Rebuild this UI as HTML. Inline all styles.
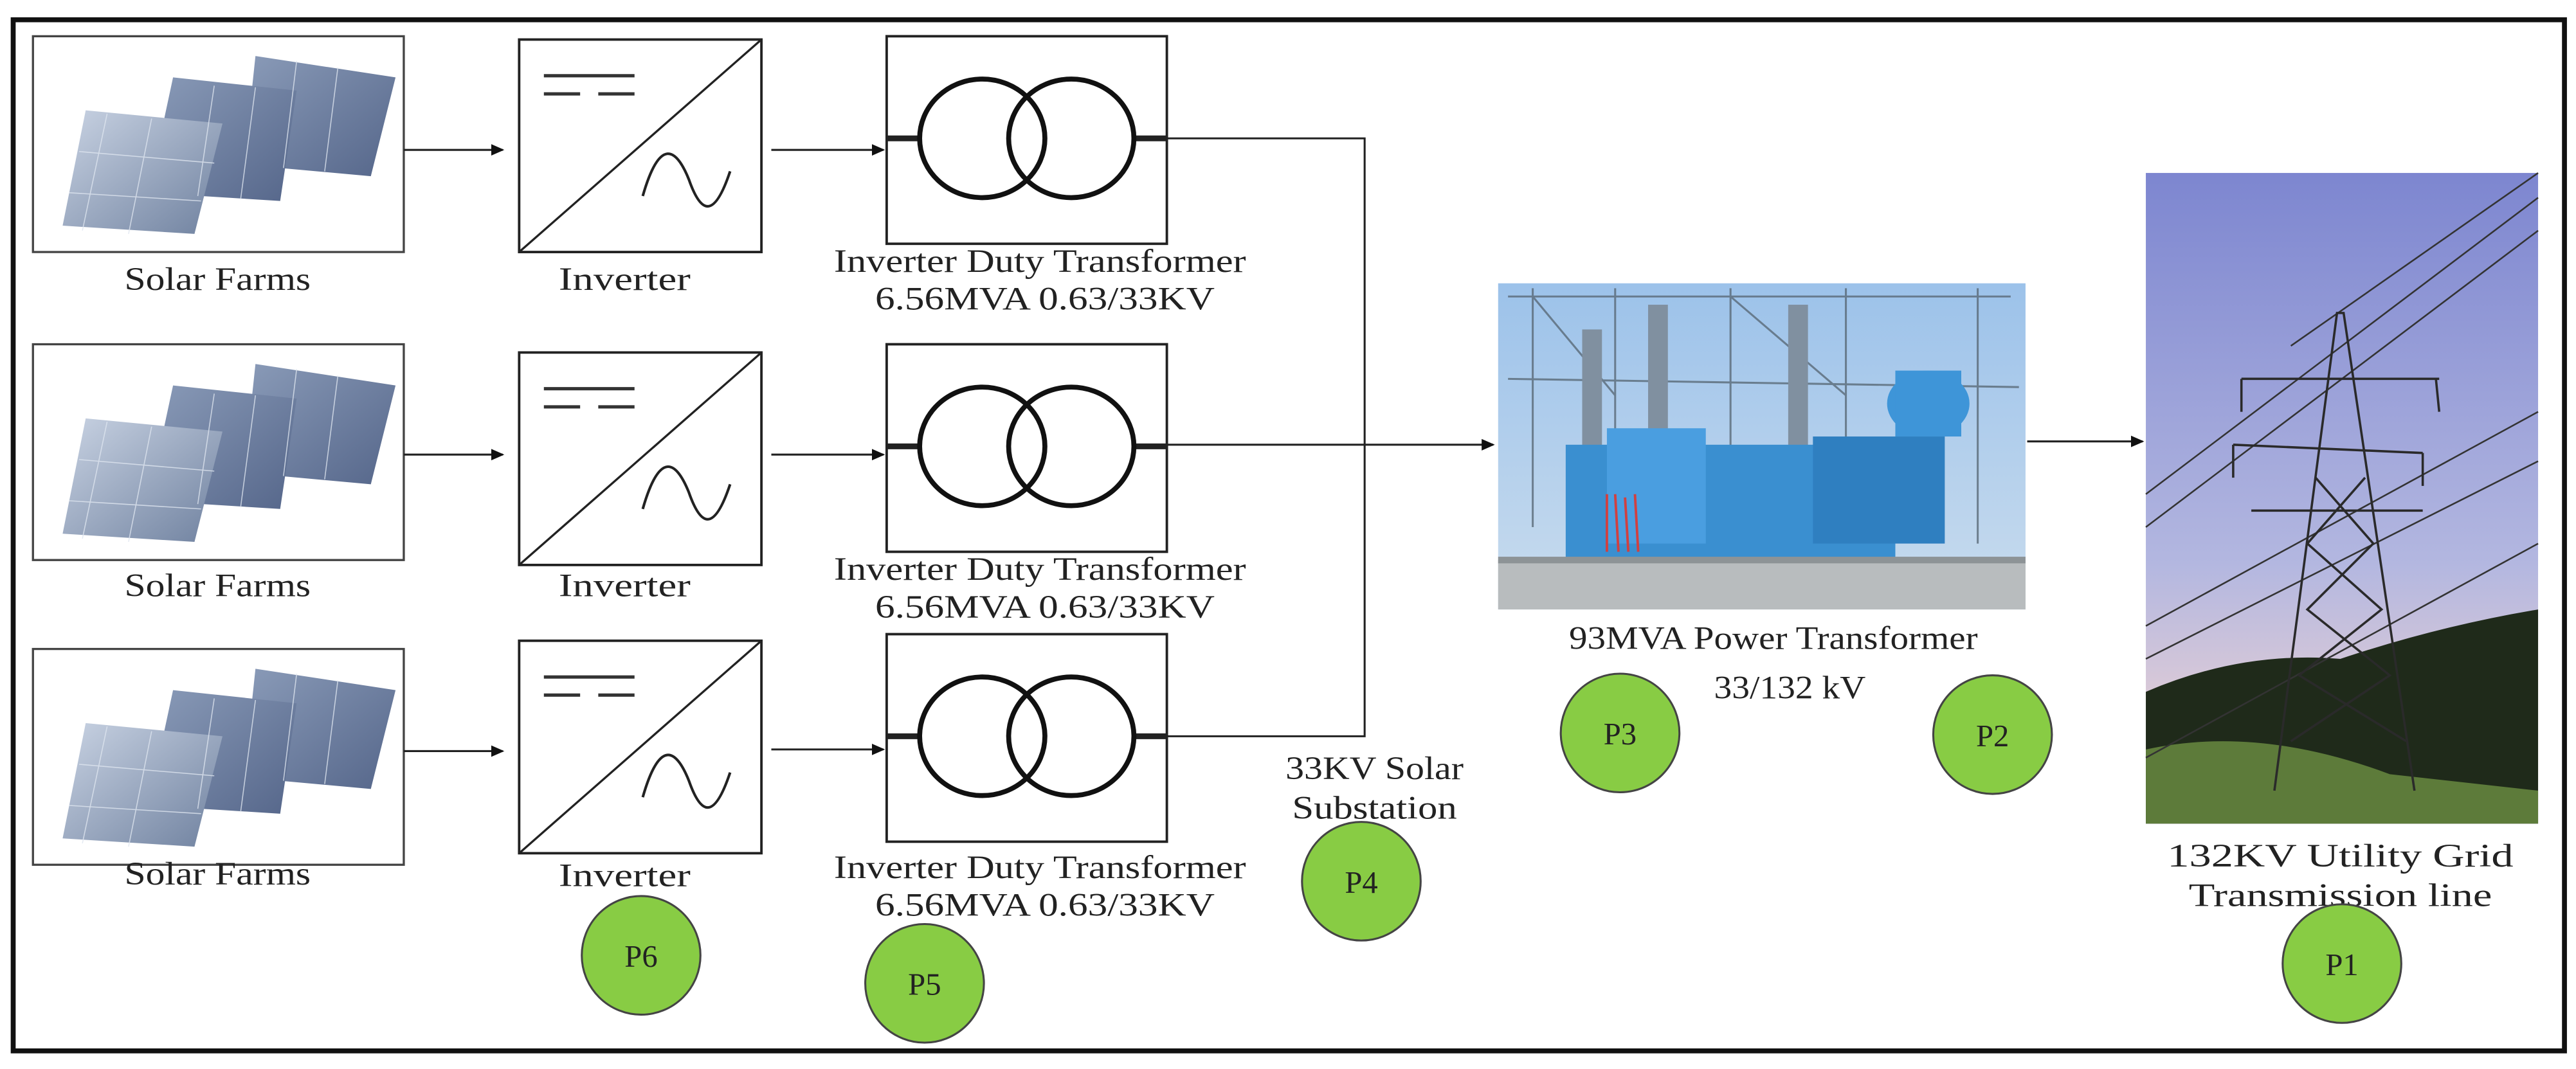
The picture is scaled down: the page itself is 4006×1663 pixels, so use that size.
<!DOCTYPE html>
<html><head><meta charset="utf-8"><style>
html,body{margin:0;padding:0;background:#fff;}
svg{display:block;}
text{font-family:"Liberation Serif","DejaVu Serif",serif;fill:#222;}
</style></head><body>
<svg width="4006" height="1663" viewBox="0 0 1563 649" preserveAspectRatio="none" xmlns="http://www.w3.org/2000/svg">
<defs>
<linearGradient id="pan" x1="0" y1="0" x2="1" y2="1"><stop offset="0" stop-color="#c9d3e3"/><stop offset="1" stop-color="#6f819f"/></linearGradient>
<linearGradient id="pan2" x1="0" y1="0" x2="1" y2="1"><stop offset="0" stop-color="#8a9bb8"/><stop offset="1" stop-color="#55668a"/></linearGradient>
<linearGradient id="sky" x1="0" y1="0" x2="0" y2="1"><stop offset="0" stop-color="#7d86d0"/><stop offset="0.6" stop-color="#b3b7e0"/><stop offset="0.8" stop-color="#d9c9d8"/></linearGradient>
<linearGradient id="sky2" x1="0" y1="0" x2="0" y2="1"><stop offset="0" stop-color="#9cc2ea"/><stop offset="1" stop-color="#c9dcee"/></linearGradient>
<marker id="ar" markerWidth="8" markerHeight="8" refX="7" refY="4" orient="auto" markerUnits="userSpaceOnUse"><path d="M0,0.5 L8,4 L0,7.5z" fill="#111"/></marker>
<g id="solar">
<rect x="0" y="0" width="225" height="131" fill="#fff" stroke="#444" stroke-width="1.3"/>
<polygon points="135,12 220,25 205,85 128,78" fill="url(#pan2)"/>
<polygon points="85,25 160,33 150,100 70,95" fill="url(#pan2)"/>
<polygon points="22,50 105,58 88,125 8,120" fill="url(#pan)" transform="translate(10,-5)"/>
<g stroke="#dfe6f0" stroke-width="0.6" opacity="0.8">
<line x1="45" y1="47" x2="30" y2="118"/><line x1="72" y1="50" x2="58" y2="120"/><line x1="28" y1="70" x2="110" y2="77"/><line x1="22" y1="95" x2="102" y2="100"/>
<line x1="110" y1="30" x2="100" y2="97"/><line x1="135" y1="31" x2="126" y2="99"/><line x1="160" y1="15" x2="152" y2="80"/><line x1="185" y1="19" x2="177" y2="82"/>
</g>
</g>
<g id="inv">
<rect x="0" y="0" width="147" height="129" fill="#fff" stroke="#222" stroke-width="1.5"/>
<line x1="0" y1="129" x2="147" y2="0" stroke="#222" stroke-width="1.3"/>
<line x1="15" y1="22" x2="70" y2="22" stroke="#333" stroke-width="2"/>
<line x1="15" y1="33" x2="37" y2="33" stroke="#333" stroke-width="2"/><line x1="48" y1="33" x2="70" y2="33" stroke="#333" stroke-width="2"/>
<path d="M75,95 C85,60 95,65 103,85 C110,105 118,110 128,80" fill="none" stroke="#222" stroke-width="1.6"/>
</g>
<g id="trf">
<rect x="0" y="0" width="170" height="126" fill="#fff" stroke="#222" stroke-width="1.5"/>
<line x1="0" y1="62" x2="20" y2="62" stroke="#222" stroke-width="3.5"/>
<line x1="150" y1="62" x2="170" y2="62" stroke="#222" stroke-width="3.5"/>
<ellipse cx="58" cy="62" rx="38" ry="36" fill="none" stroke="#111" stroke-width="3"/>
<ellipse cx="112" cy="62" rx="38" ry="36" fill="none" stroke="#111" stroke-width="3"/>
</g>
</defs>
<rect x="8" y="12" width="1548" height="626" fill="none" stroke="#111" stroke-width="3"/>

<use href="#solar" x="20" y="22"/>
<use href="#solar" x="20" y="209"/>
<use href="#solar" x="20" y="394"/>
<g font-size="20" text-anchor="middle" font-family="Liberation Serif, serif" lengthAdjust="spacingAndGlyphs">
<text x="132" y="176" textLength="113" lengthAdjust="spacingAndGlyphs">Solar Farms</text><text x="132" y="362" textLength="113" lengthAdjust="spacingAndGlyphs">Solar Farms</text><text x="132" y="537" textLength="113" lengthAdjust="spacingAndGlyphs">Solar Farms</text>
<text x="379" y="176" textLength="80" lengthAdjust="spacingAndGlyphs">Inverter</text><text x="379" y="362" textLength="80" lengthAdjust="spacingAndGlyphs">Inverter</text><text x="379" y="538" textLength="80" lengthAdjust="spacingAndGlyphs">Inverter</text>
<text x="631" y="165" textLength="250" lengthAdjust="spacingAndGlyphs">Inverter Duty Transformer</text><text x="634" y="188" textLength="206" lengthAdjust="spacingAndGlyphs">6.56MVA 0.63/33KV</text>
<text x="631" y="352" textLength="250" lengthAdjust="spacingAndGlyphs">Inverter Duty Transformer</text><text x="634" y="375" textLength="206" lengthAdjust="spacingAndGlyphs">6.56MVA 0.63/33KV</text>
<text x="631" y="533" textLength="250" lengthAdjust="spacingAndGlyphs">Inverter Duty Transformer</text><text x="634" y="556" textLength="206" lengthAdjust="spacingAndGlyphs">6.56MVA 0.63/33KV</text>
<text x="834" y="473" textLength="108" lengthAdjust="spacingAndGlyphs">33KV Solar</text><text x="834" y="497" textLength="100" lengthAdjust="spacingAndGlyphs">Substation</text>
<text x="1076" y="394" textLength="248" lengthAdjust="spacingAndGlyphs">93MVA Power Transformer</text><text x="1086" y="424" textLength="92" lengthAdjust="spacingAndGlyphs">33/132 kV</text>
<text x="1420" y="526" textLength="210" lengthAdjust="spacingAndGlyphs">132KV Utility Grid</text><text x="1420" y="550" textLength="184" lengthAdjust="spacingAndGlyphs">Transmission line</text>
</g>

<use href="#inv" x="315" y="24"/>
<use href="#inv" x="315" y="214"/>
<use href="#inv" x="315" y="389"/>
<use href="#trf" x="538" y="22"/>
<use href="#trf" x="538" y="209"/>
<use href="#trf" x="538" y="385"/>

<g stroke="#222" stroke-width="1.2" fill="none">
<line x1="245" y1="91" x2="305" y2="91" marker-end="url(#ar)"/>
<line x1="245" y1="276" x2="305" y2="276" marker-end="url(#ar)"/>
<line x1="245" y1="456" x2="305" y2="456" marker-end="url(#ar)"/>
<line x1="468" y1="91" x2="536" y2="91" marker-end="url(#ar)"/>
<line x1="468" y1="276" x2="536" y2="276" marker-end="url(#ar)"/>
<line x1="468" y1="455" x2="536" y2="455" marker-end="url(#ar)"/>
<polyline points="708,84 828,84 828,447 708,447"/>
<line x1="708" y1="270" x2="906" y2="270" marker-end="url(#ar)"/>
<line x1="1230" y1="268" x2="1300" y2="268" marker-end="url(#ar)"/>
</g>

<g>
<rect x="909" y="172" width="320" height="198" fill="url(#sky2)"/>
<g stroke="#5a6a78" stroke-width="1.2" fill="none" opacity="0.8">
<path d="M915,180 L1220,180 M930,175 L930,320 M980,175 L980,320 M1050,175 L1050,320 M1120,175 L1120,320 M1200,175 L1200,330"/>
<path d="M915,230 L1225,235 M930,180 L980,240 M1050,180 L1120,240"/>
</g>
<rect x="960" y="200" width="12" height="80" fill="#8090a0"/>
<rect x="1000" y="185" width="12" height="95" fill="#8090a0"/>
<rect x="1085" y="185" width="12" height="95" fill="#8090a0"/>
<rect x="950" y="270" width="200" height="70" fill="#3a8fd0"/>
<rect x="975" y="260" width="60" height="70" fill="#4a9ee0"/>
<ellipse cx="1170" cy="245" rx="25" ry="20" fill="#3e95d8"/>
<rect x="1150" y="225" width="40" height="40" fill="#3e95d8"/>
<rect x="1100" y="265" width="80" height="65" fill="#2f7fc0"/>
<g stroke="#d04040" stroke-width="1.5"><line x1="975" y1="300" x2="975" y2="335"/><line x1="980" y1="300" x2="982" y2="335"/><line x1="986" y1="302" x2="988" y2="335"/><line x1="992" y1="300" x2="994" y2="335"/></g>
<rect x="909" y="340" width="320" height="30" fill="#b8bcbe"/>
<rect x="909" y="338" width="320" height="4" fill="#8d9396"/>
</g>

<g>
<rect x="1302" y="105" width="238" height="395" fill="url(#sky)"/>
<path d="M1302,420 Q1360,395 1420,400 Q1480,380 1540,370 L1540,500 L1302,500z" fill="#1f2a1a"/>
<path d="M1302,455 Q1370,440 1450,470 L1540,480 L1540,500 L1302,500z" fill="#5d7b3a"/>
<g stroke="#333" stroke-width="1" fill="none">
<line x1="1302" y1="300" x2="1540" y2="120"/><line x1="1302" y1="320" x2="1540" y2="140"/>
<line x1="1302" y1="380" x2="1540" y2="250"/><line x1="1302" y1="400" x2="1540" y2="280"/>
<line x1="1302" y1="460" x2="1540" y2="330"/><line x1="1390" y1="210" x2="1540" y2="105"/>
</g>
<g stroke="#2a2a2a" stroke-width="1.4" fill="none">
<polyline points="1380,480 1418,190 1422,190 1465,480"/>
<line x1="1360" y1="230" x2="1480" y2="230"/><line x1="1355" y1="270" x2="1470" y2="275"/><line x1="1366" y1="310" x2="1470" y2="310"/>
<line x1="1360" y1="230" x2="1360" y2="250"/><line x1="1478" y1="230" x2="1480" y2="250"/>
<line x1="1355" y1="270" x2="1355" y2="290"/><line x1="1470" y1="275" x2="1470" y2="295"/>
<path d="M1405,290 L1440,330 L1400,370 L1450,410 L1390,450 M1435,290 L1400,330 L1445,370 L1395,410 L1460,450"/>
</g>
</g>

<g fill="#88cc44" stroke="#444" stroke-width="1.2">
<circle cx="983" cy="445" r="36"/><circle cx="1209" cy="446" r="36"/><circle cx="826" cy="535" r="36"/>
<circle cx="1421" cy="585" r="36"/><circle cx="389" cy="580" r="36"/><circle cx="561" cy="597" r="36"/>
</g>
<g font-size="19" text-anchor="middle" font-family="Liberation Serif, serif">
<text x="983" y="452">P3</text><text x="1209" y="453">P2</text><text x="826" y="542">P4</text>
<text x="1421" y="592">P1</text><text x="389" y="587">P6</text><text x="561" y="604">P5</text>
</g>
</svg>
</body></html>
